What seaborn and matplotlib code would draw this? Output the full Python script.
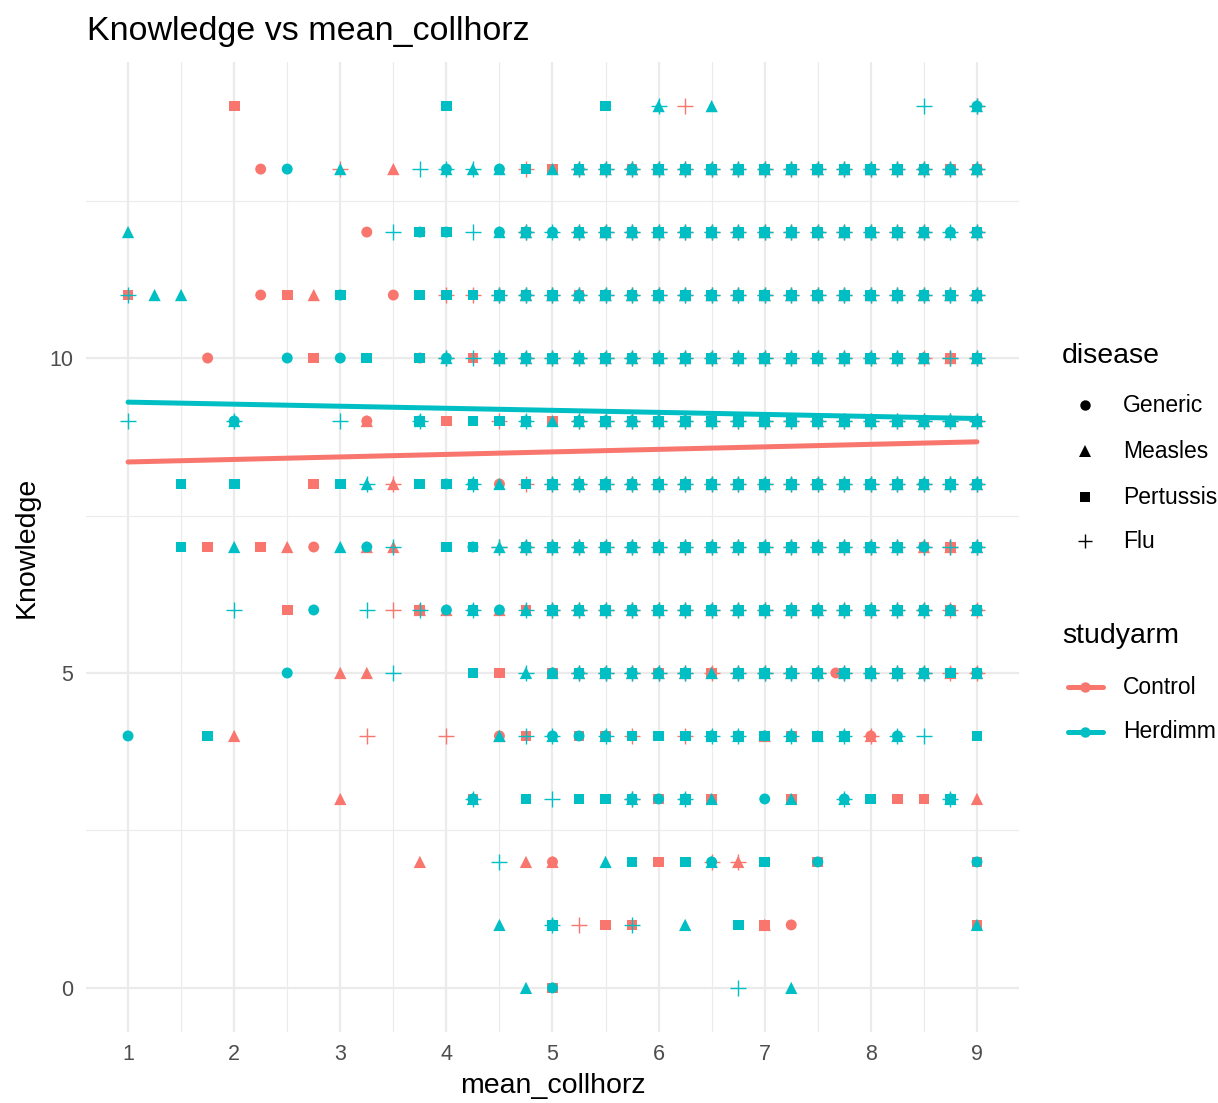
import pandas as pd
import seaborn as sns
import matplotlib.pyplot as plt
from matplotlib.lines import Line2D

# DATA
# x grid of mean_collhorz values and the Knowledge rows (top to bottom)
mean_collhorz = [1.0, 1.25, 1.5, 1.75, 2.0, 2.25, 2.5, 2.75, 3.0, 3.25, 3.5,
                 3.75, 4.0, 4.25, 4.5, 4.75, 5.0, 5.25, 5.5, 5.75, 6.0, 6.25,
                 6.5, 6.75, 7.0, 7.25, 7.5, 7.75, 8.0, 8.25, 8.5, 8.75, 9.0]
knowledge = [14, 13, 12, 11, 10, 9, 8, 7, 6, 5, 4, 3, 2, 1, 0]

# one token per x value: g=Generic m=Measles p=Pertussis f=Flu, *=all four, .=none
control_rows = [
    ". . . .  p . . .  . . . .  . . . .  . . . .  . f . .  . . . .  . . . .  f",
    ". . . .  . g . .  f . m .  . . . f  p * * *  * * * *  * * * *  * * * *  *",
    ". . . .  . . . .  . g . .  . . . *  . * * *  * * * *  * * * *  * * * .  *",
    "p . . .  . g p m  . . g .  f f * *  * * * *  * * * *  * * * *  * * * *  *",
    ". . . g  . . . p  . . . g  f p * *  * * * *  * * * *  * * * *  * * * *  *",
    ". . . .  . . . .  . gm . .  p . f p  p * * *  * * * *  * * * *  * * * *  *",
    ". . . .  . . . p  . . mf .  . . g f  * * * *  * * * *  * * * *  * * * *  *",
    ". . . p  . p m g  . m m .  . . f *  * * * *  * * * *  * * * *  * * * *  *",
    ". . . .  . . p .  . . f gmp  m . m p  * * * *  * * * *  * * * *  * * * *  *",
    ". . . .  . . . .  m m . .  . . p .  p * * *  * * * *  * * * *  * * * *  *",
    ". . . .  m . . .  . f . .  f . gm p  . p p f  p f . .  m p . .  gmf . . .  .",
    ". . . .  . . . .  m . . .  . p . .  . . . f  p . p .  . p . .  . p p .  m",
    ". . . .  . . . .  . . . m  . . . m  gm . . .  p . f mf  p . p .  . . . .  p",
    ". . . .  . . . .  . . . .  . . . .  p f p p  . . . .  pm g . .  . . . .  p",
    ". . . .  . . . .  . . . .  . . . .  p . . .  . . . .  . . . .  . . . .  .",
]
herdimm_rows = [
    ". . . .  . . . .  . . . .  p . . .  . . p .  mf . m .  . . . .  . . f .  gmf",
    ". . . .  . . g .  m . . f  gmf mf gm p  m * * gmf  * * * *  * * * *  * * * gmf  gmf",
    "m . . .  . . . .  . . f gp  gp f gm *  gmf * * *  * * * *  * * * *  * * * gmf  *",
    "f m m .  . . . .  gp . . p  p p * *  * gmf * *  * * * *  * * * *  * * * *  *",
    ". . . .  . . g .  g p . p  gmf f * *  * * * *  * * * *  * * * *  * * gmp f  mpf",
    "f . . .  gmf . . .  f . . *  . p p *  m * * *  * * * *  * * * *  * * * *  *",
    ". . p .  p . . .  p mf . p  gp * m p  * * * *  * * * *  * * * *  * * * *  *",
    ". . p .  m . . .  m g f .  p gp mf *  * * * *  * * * *  * * * *  * * gf f  *",
    ". . . .  f . . g  . f . f  g * g mf  * * * *  * * * *  * * * *  * * * gm  gmp",
    ". . . .  . . g .  . . f .  . p . mf  gm * * *  gmf * m *  * * * *  * * * p  gmp",
    "g . . p  . . . .  . . . .  . . m f  gmf g gmf p  p p * *  gp gmf mp *  . gmf f .  p",
    ". . . .  . . . .  . . . .  . gmf . p  f p p *  g * m .  g m . gmf  p . . *  .",
    ". . . .  . . . .  . . . .  . . f .  . . m p  . p gm .  p . g .  . . . .  g",
    ". . . .  . . . .  . . . .  . . m .  * . . f  . m . p  . . . .  . . . .  m",
    ". . . .  . . . .  . . . .  . . . m  g . . .  . . . f  . m . .  . . . .  .",
]
# one control point that sits off the quarter grid
extra_x = [7.67]
extra_y = [5]
extra_disease = ['Generic']

# fitted lm lines per studyarm
fit_x = [1, 9]
control_fit = [8.35, 8.67]
herdimm_fit = [9.30, 9.04]

disease_names = {'g': 'Generic', 'm': 'Measles', 'p': 'Pertussis', 'f': 'Flu'}
diseases = ['Generic', 'Measles', 'Pertussis', 'Flu']
arms = ['Control', 'Herdimm']
palette = {'Control': '#F8766D', 'Herdimm': '#00BFC4'}
markers = {'Generic': 'o', 'Measles': '^', 'Pertussis': 's', 'Flu': '+'}
msizes = {'Generic': 62, 'Measles': 78, 'Pertussis': 60, 'Flu': 120}


def rows_to_df(rows, arm):
    recs = []
    for y, row in zip(knowledge, rows):
        tokens = row.split()
        for x, tok in zip(mean_collhorz, tokens):
            if tok == '.':
                continue
            codes = 'gmpf' if tok == '*' else tok
            for c in codes:
                recs.append((x, y, disease_names[c], arm))
    return pd.DataFrame(recs, columns=['mean_collhorz', 'Knowledge', 'disease', 'studyarm'])


df = pd.concat([
    rows_to_df(control_rows, 'Control'),
    pd.DataFrame({'mean_collhorz': extra_x, 'Knowledge': extra_y,
                  'disease': extra_disease, 'studyarm': 'Control'}),
    rows_to_df(herdimm_rows, 'Herdimm'),
], ignore_index=True)

# PLOT
sns.set_style('white')
plt.rcParams['font.family'] = ['Liberation Sans', 'DejaVu Sans']
plt.rcParams['text.color'] = 'black'

fig = plt.figure(figsize=(12.18, 11.03), dpi=100)
ax = fig.add_axes([85.6 / 1218, 71 / 1103, (1019.4 - 85.6) / 1218, (1032 - 62) / 1103])

for arm in arms:
    for dis in diseases:
        sub = df[(df['studyarm'] == arm) & (df['disease'] == dis)]
        if sub.empty:
            continue
        kw = dict(linewidth=1.0) if dis == 'Flu' else dict(linewidth=0, edgecolor='none')
        sns.scatterplot(data=sub, x='mean_collhorz', y='Knowledge', color=palette[arm],
                        marker=markers[dis], s=msizes[dis], ax=ax, legend=False, zorder=3, **kw)

sns.lineplot(x=fit_x, y=control_fit, color=palette['Control'], linewidth=3.6, ax=ax, zorder=4)
sns.lineplot(x=fit_x, y=herdimm_fit, color=palette['Herdimm'], linewidth=3.6, ax=ax, zorder=4)

ax.set_xlim(0.6, 9.4)
ax.set_ylim(-0.7, 14.7)
ax.set_xticks(range(1, 10))
ax.set_xticks([1.5, 2.5, 3.5, 4.5, 5.5, 6.5, 7.5, 8.5], minor=True)
ax.set_yticks([0, 5, 10])
ax.set_yticks([2.5, 7.5, 12.5], minor=True)
ax.grid(which='major', color='#EBEBEB', linewidth=1.6)
ax.grid(which='minor', color='#EBEBEB', linewidth=0.8)
ax.set_axisbelow(True)
for sp in ax.spines.values():
    sp.set_visible(False)
ax.tick_params(which='both', length=0, labelsize=15.5, labelcolor='#4D4D4D')
ax.tick_params(axis='x', pad=9)
ax.tick_params(axis='y', pad=9)
ax.set_xlabel('')
ax.set_ylabel('')

fig.text(87 / 1218, 1 - 40 / 1103, 'Knowledge vs mean_collhorz', fontsize=24.5, va='baseline')
fig.text((85.6 + 1019.4) / 2 / 1218, 1 - 1086 / 1103, 'mean_collhorz', fontsize=20.5,
         ha='center', va='center')
fig.text(27 / 1218, 1 - 547 / 1103, 'Knowledge', fontsize=20.5, rotation=90,
         ha='center', va='center')

# legend, drawn by hand to look like ggplot's guides
def fy(py):
    return 1 - py / 1103


def fx(px):
    return px / 1218


fig.text(fx(1062), fy(356), 'disease', fontsize=20.5, va='center')
for dis, py in zip(diseases, [405, 451, 497, 541]):
    ms = {'Generic': 7.5, 'Measles': 8.5, 'Pertussis': 7.5, 'Flu': 10.5}[dis]
    fig.add_artist(Line2D([fx(1085)], [fy(py)], transform=fig.transFigure, marker=markers[dis],
                          color='black', markersize=ms, markeredgewidth=1.0 if dis == 'Flu' else 0,
                          linestyle='none'))
    fig.text(fx(1123), fy(py), dis, fontsize=16.5, va='center')

fig.text(fx(1062), fy(636), 'studyarm', fontsize=20.5, va='center')
for arm, py in zip(arms, [687, 732]):
    fig.add_artist(Line2D([fx(1068), fx(1103)], [fy(py), fy(py)], transform=fig.transFigure,
                          color=palette[arm], linewidth=3.6))
    fig.add_artist(Line2D([fx(1085)], [fy(py)], transform=fig.transFigure, marker='o',
                          color=palette[arm], markersize=7.5, markeredgewidth=0))
    fig.text(fx(1123), fy(py), arm, fontsize=16.5, va='center')

fig.savefig('out.png', dpi=100)
